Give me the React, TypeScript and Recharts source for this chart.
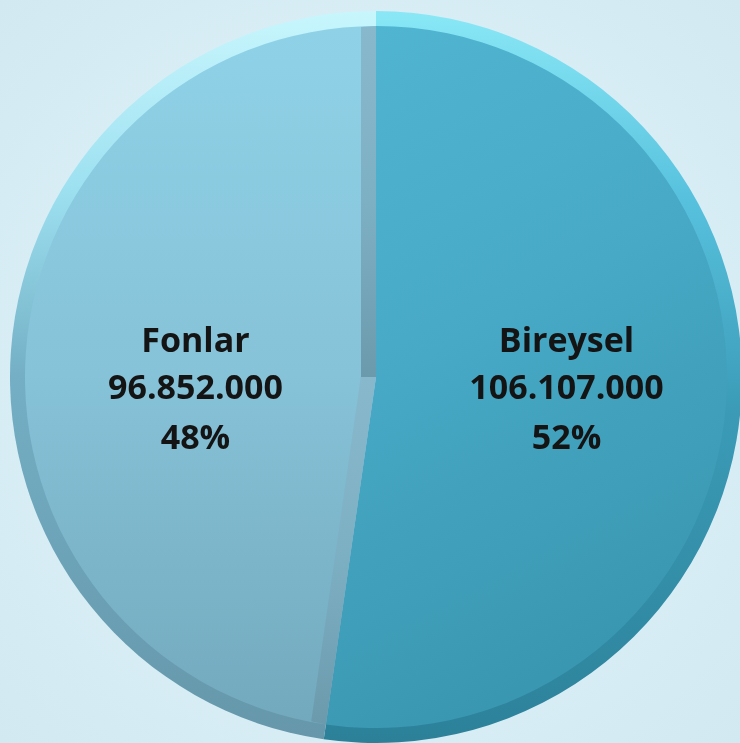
import { PieChart, Pie, Cell, Sector } from 'recharts';

const names = ['Bireysel', 'Fonlar'];
const amounts = [106107000, 96852000];
const percentLabels = ['52%', '48%'];

const data = names.map((name, i) => ({ name, value: amounts[i], pct: percentLabels[i] }));

const RIM_FILLS = ['url(#rimBireysel)', 'url(#rimFonlar)'];
const FACE_FILLS = ['url(#faceBireysel)', 'url(#faceFonlar)'];

const RAD = Math.PI / 180;
const BAND = 15;

const formatAmount = (v: number) => v.toLocaleString('de-DE');

// point on a ray, shifted sideways toward the slice interior
const rayPoint = (cx: number, cy: number, angle: number, r: number, side: number, w: number) => {
    const a = angle * RAD;
    const p = (angle + side * 90) * RAD;
    return [cx + r * Math.cos(-a) + w * Math.cos(-p), cy + r * Math.sin(-a) + w * Math.sin(-p)];
};

const renderFace = (props: any) => {
    const { cx, cy, innerRadius, outerRadius, startAngle, endAngle, fill, name } = props;
    const bands: JSX.Element[] = [];
    if (name === 'Fonlar') {
        const dir = endAngle < startAngle ? -1 : 1;
        [[startAngle, dir], [endAngle, -dir]].forEach(([ang, side], k) => {
            const pts = [
                rayPoint(cx, cy, ang, 0, side, 0),
                rayPoint(cx, cy, ang, outerRadius, side, 0),
                rayPoint(cx, cy, ang, outerRadius - 1, side, BAND),
                rayPoint(cx, cy, ang, 0, side, BAND),
            ];
            bands.push(
                <polygon key={k} points={pts.map((p) => p.join(',')).join(' ')} fill="url(#sepBand)" />
            );
        });
    }
    return (
        <g>
            <Sector
                cx={cx}
                cy={cy}
                innerRadius={innerRadius}
                outerRadius={outerRadius}
                startAngle={startAngle}
                endAngle={endAngle}
                fill={fill}
                stroke="none"
            />
            {bands}
        </g>
    );
};

const renderLabel = (props: any) => {
    const { cx, cy, midAngle, index } = props;
    const r = 186;
    const x = cx + r * Math.cos(-midAngle * RAD) + 5;
    const y = cy + 9;
    const d = data[index];
    return (
        <text
            x={x}
            y={y}
            textAnchor="middle"
            dominantBaseline="central"
            fill="#141414"
            fontFamily="'Open Sans', sans-serif"
            fontWeight={700}
            fontSize={34}
        >
            <tspan x={x} dy={-47}>{d.name}</tspan>
            <tspan x={x} dy={47}>{formatAmount(d.value)}</tspan>
            <tspan x={x} dy={50}>{d.pct}</tspan>
        </text>
    );
};

export default function App() {
    return (
        <div
            style={{
                position: 'fixed',
                left: 0,
                top: 0,
                width: 740,
                height: 743,
                overflow: 'hidden',
                background: 'radial-gradient(circle at 50% 50%, #e4f3f8 0%, #d9eef5 60%, #d2e9f2 100%)',
            }}
        >
            <PieChart width={740} height={743} margin={{ top: 0, right: 0, bottom: 0, left: 0 }}>
                <defs>
                    <linearGradient id="rimFonlar" x1="0" y1="0" x2="0" y2="1">
                        <stop offset="0" stopColor="#c8f6fd" />
                        <stop offset="0.25" stopColor="#9ce0f0" />
                        <stop offset="0.5" stopColor="#74afc5" />
                        <stop offset="1" stopColor="#6697aa" />
                    </linearGradient>
                    <linearGradient id="rimBireysel" x1="0" y1="0" x2="0" y2="1">
                        <stop offset="0" stopColor="#8ae8f6" />
                        <stop offset="0.25" stopColor="#58c2de" />
                        <stop offset="0.55" stopColor="#3b9bb7" />
                        <stop offset="1" stopColor="#2c8199" />
                    </linearGradient>
                    <linearGradient id="faceFonlar" x1="0" y1="0" x2="0" y2="1">
                        <stop offset="0" stopColor="#8fd2e7" />
                        <stop offset="0.5" stopColor="#86c2d8" />
                        <stop offset="1" stopColor="#73a9bd" />
                    </linearGradient>
                    <linearGradient id="faceBireysel" x1="0" y1="0" x2="0.3" y2="1">
                        <stop offset="0" stopColor="#51b6d2" />
                        <stop offset="0.5" stopColor="#47a9c6" />
                        <stop offset="1" stopColor="#3a97b1" />
                    </linearGradient>
                    <linearGradient id="sepBand" x1="0" y1="0" x2="0" y2="1">
                        <stop offset="0" stopColor="#88b8cc" />
                        <stop offset="0.5" stopColor="#7eb0c4" />
                        <stop offset="1" stopColor="#6b9aac" />
                    </linearGradient>
                </defs>
                <Pie
                    data={data}
                    dataKey="value"
                    nameKey="name"
                    cx={376}
                    cy={377}
                    outerRadius={366}
                    startAngle={90}
                    endAngle={-270}
                    stroke="none"
                    isAnimationActive={false}
                >
                    {data.map((d, i) => (
                        <Cell key={d.name} fill={RIM_FILLS[i]} />
                    ))}
                </Pie>
                <Pie
                    data={data}
                    dataKey="value"
                    nameKey="name"
                    cx={376}
                    cy={377}
                    outerRadius={351}
                    startAngle={90}
                    endAngle={-270}
                    stroke="none"
                    shape={renderFace}
                    label={renderLabel}
                    labelLine={false}
                    isAnimationActive={false}
                >
                    {data.map((d, i) => (
                        <Cell key={d.name} fill={FACE_FILLS[i]} />
                    ))}
                </Pie>
            </PieChart>
        </div>
    );
}
